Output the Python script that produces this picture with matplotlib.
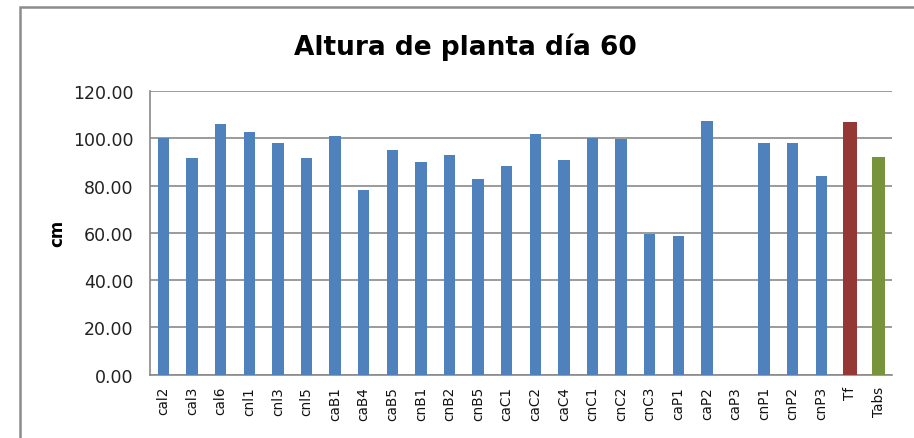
import matplotlib
matplotlib.use("Agg")
import matplotlib.pyplot as plt
from matplotlib.patches import Rectangle
import numpy as np

categories = ["cal2", "cal3", "cal6", "cnl1", "cnl3", "cnl5", "caB1", "caB4", "caB5",
              "cnB1", "cnB2", "cnB5", "caC1", "caC2", "caC4", "cnC1", "cnC2", "cnC3",
              "caP1", "caP2", "caP3", "cnP1", "cnP2", "cnP3", "Tf", "Tabs"]
values = [100.1, 91.5, 105.9, 102.8, 98.0, 91.5, 101.1, 78.0, 94.9,
          90.0, 93.1, 82.8, 88.3, 102.0, 90.7, 100.3, 99.8, 59.6,
          58.7, 107.5, 0.0, 97.9, 97.9, 84.2, 106.8, 92.2]
colors = ["#4f81bd"] * 24 + ["#953735", "#77933c"]
widths = [0.40] * 24 + [0.47, 0.47]
title = "Altura de planta día 60"
ylabel = "cm"

fig = plt.figure(figsize=(9.14, 4.39), dpi=100)
ax = fig.add_axes([150/914, 1-375.7/439, (892-150)/914, (375.7-92)/439])

x = np.arange(len(categories))
ax.bar(x, values, width=widths, color=colors, zorder=3)

ax.set_ylim(0, 120)
ax.set_yticks(np.arange(0, 121, 20))
ax.set_yticklabels([f"{v:.2f}" for v in np.arange(0, 121, 20)], fontsize=12.5, color="#222222")
ax.set_xlim(-0.47, len(categories) - 0.53)
ax.set_xticks(x)
ax.set_xticklabels(categories, rotation=90, fontsize=9.8, color="#111111")
ax.tick_params(axis="both", length=0)
ax.tick_params(axis="x", pad=8)
ax.tick_params(axis="y", pad=12)
ax.grid(axis="y", color="#8a8a8a", linewidth=1.2, zorder=0)
for s in ["top", "right"]:
    ax.spines[s].set_visible(False)
for s in ["left", "bottom"]:
    ax.spines[s].set_color("#8a8a8a")
    ax.spines[s].set_linewidth(1.2)

ax.set_ylabel(ylabel, fontsize=12, fontweight="semibold")
ax.yaxis.set_label_coords((66 - 150) / 742, 0.5)
fig.text(465/914, 1-47/439, title, fontsize=19, fontweight="bold", ha="center", va="center")

fig.patches.append(Rectangle((20/914, -0.2), 1.2, 1-8/439+0.2, transform=fig.transFigure,
                             fill=False, edgecolor="#8c8c8c", linewidth=1.8))

fig.savefig("out.png", dpi=100)
